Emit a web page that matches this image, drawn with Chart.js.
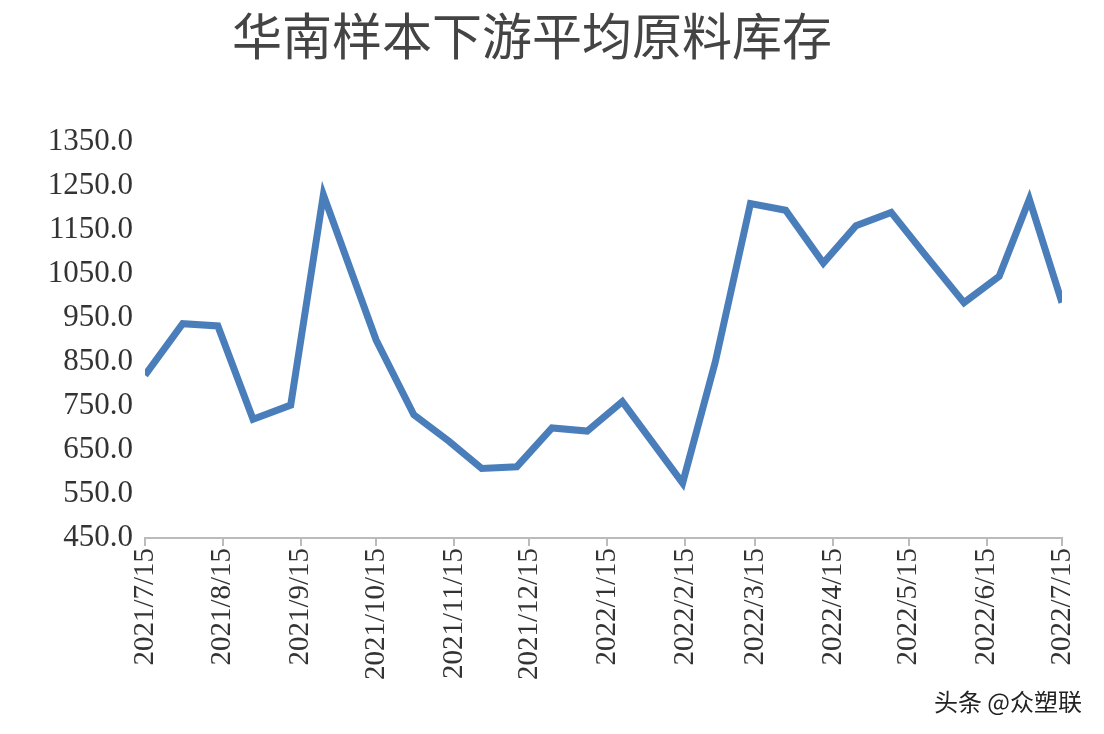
<!DOCTYPE html>
<html><head><meta charset="utf-8">
<script src="https://cdn.jsdelivr.net/npm/chart.js@4"></script>
<style>
body{margin:0;background:#fff;}
#wrap{position:relative;width:1104px;height:734px;}
#mark{position:absolute;right:22px;bottom:16px;font:24px "Noto Sans CJK SC";color:#222;}
</style></head>
<body><div id="wrap"><canvas id="c" width="1104" height="734"></canvas><div id="mark">头条 @众塑联</div></div>
<script>
const dates = ['2021-07-15','2021-07-30','2021-08-13','2021-08-27','2021-09-11','2021-09-24','2021-10-15','2021-10-30','2021-11-13','2021-11-26','2021-12-10','2021-12-24','2022-01-07','2022-01-21','2022-02-14','2022-02-27','2022-03-13','2022-03-27','2022-04-11','2022-04-24','2022-05-08','2022-05-22','2022-06-06','2022-06-20','2022-07-02','2022-07-15'];
const stock = [820,937,932,720,752,1230,900,730,670,608,612,700,693,760,575,850,1210,1195,1075,1160,1190,1090,985,1045,1220,985];
const tickDates = ['2021-07-15','2021-08-15','2021-09-15','2021-10-15','2021-11-15','2021-12-15','2022-01-15','2022-02-15','2022-03-15','2022-04-15','2022-05-15','2022-06-15','2022-07-15'];

const t0 = Date.parse(dates[0]);
const day = s => (Date.parse(s) - t0) / 86400000;
const label = s => { const [y,m,d] = s.split('-'); return `${y}/${+m}/${+d}`; };
const tickMap = {};
tickDates.forEach(s => tickMap[day(s)] = label(s));

new Chart(document.getElementById('c').getContext('2d'), {
  type: 'line',
  data: { datasets: [{ data: dates.map((s,i) => ({x: day(s), y: stock[i]})),
    borderColor: '#4a7ebb', borderWidth: 7, pointRadius: 0, tension: 0, fill: false }] },
  options: {
    responsive: false, animation: false,
    layout: { padding: { left: 2, right: 42, top: 0, bottom: 0 } },
    plugins: {
      legend: { display: false },
      title: { display: true, text: '华南样本下游平均原料库存', color: '#444',
        font: { family: 'Noto Sans CJK SC', size: 50, weight: 'normal' },
        padding: { top: 6, bottom: 76 } }
    },
    scales: {
      x: { type: 'linear', min: 0, max: day(tickDates[12]),
        afterBuildTicks: a => { a.ticks = Object.keys(tickMap).map(v => ({value: +v})); },
        afterFit: a => { a.height = 196; },
        grid: { drawOnChartArea: false, drawTicks: true, tickLength: 8, color: '#bbb', lineWidth: 2 },
        border: { color: '#bbb', width: 2 },
        ticks: { maxRotation: 90, minRotation: 90, autoSkip: false, color: '#333', padding: 2,
          font: { family: 'Liberation Serif', size: 29 }, callback: v => tickMap[v] } },
      y: { min: 450, max: 1350,
        afterFit: a => { a.width = 143; },
        grid: { display: false }, border: { display: false },
        ticks: { stepSize: 100, color: '#333', padding: 4,
          font: { family: 'Liberation Serif', size: 31 }, callback: v => v.toFixed(1) } }
    }
  }
});
</script></body></html>
